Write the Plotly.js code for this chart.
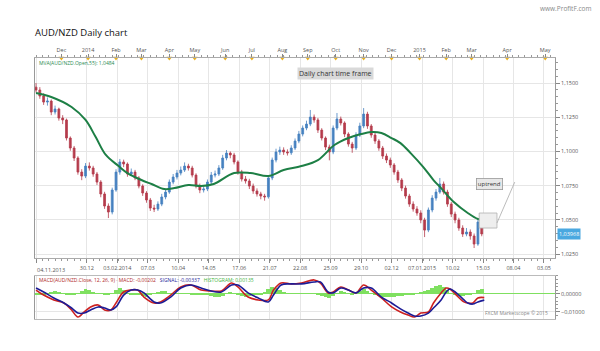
<!DOCTYPE html>
<html>
<head>
<meta charset="utf-8">
<script src="https://cdn.plot.ly/plotly-3.0.1.min.js"></script>
<style>html,body{margin:0;padding:0;background:#fff}#chart{width:600px;height:351px}</style>
</head>
<body>
<div id="chart"></div>
<script>
// Bar index (trading days from 04.11.2013), one candle per 3 sessions
const barIdx = [0,3,6,9,12,15,18,21,24,27,30,33,36,39,42,45,48,51,54,57,60,63,66,69,72,75,78,81,84,87,90,93,96,99,102,105,108,111,114,117,120,123,126,129,132,135,138,141,144,147,150,153,156,159,162,165,168,171,174,177,180,183,186,189,192,195,198,201,204,207,210,213,216,219,222,225,228,231,234,237,240,243,246,249,252,255,258,261,264,267,270,273,276,279,282,285,288,291,294,297,300,303,306,309,312,315,318,321,324,327,330,333,336,339,342,345,348,351];
const openP = [1.1470,1.1449,1.1405,1.1361,1.1368,1.1288,1.1310,1.1244,1.1230,1.1098,1.1025,1.0952,1.0849,1.0820,1.0893,1.0879,1.0835,1.0776,1.0689,1.0601,1.0557,1.0718,1.0849,1.0923,1.0908,1.0835,1.0849,1.0806,1.0747,1.0696,1.0645,1.0586,1.0579,1.0615,1.0667,1.0703,1.0776,1.0813,1.0842,1.0864,1.0893,1.0879,1.0827,1.0747,1.0718,1.0725,1.0776,1.0827,1.0835,1.0879,1.0952,1.0988,1.0974,1.0923,1.0849,1.0798,1.0784,1.0747,1.0711,1.0689,1.0674,1.0668,1.0806,1.0937,1.0996,1.1010,1.0996,1.0990,1.1025,1.1076,1.1127,1.1171,1.1200,1.1251,1.1230,1.1156,1.1098,1.1032,1.0996,1.1171,1.1237,1.1208,1.1127,1.1054,1.1025,1.1120,1.1186,1.1273,1.1186,1.1120,1.1076,1.1025,1.0966,1.0937,1.0901,1.0849,1.0791,1.0732,1.0674,1.0615,1.0579,1.0550,1.0499,1.0425,1.0572,1.0659,1.0703,1.0762,1.0703,1.0615,1.0542,1.0499,1.0440,1.0396,1.0411,1.0382,1.0323,1.0484];
const highP = [1.1500,1.1470,1.1425,1.1395,1.1380,1.1335,1.1320,1.1265,1.1240,1.1110,1.1040,1.0965,1.0870,1.0915,1.0920,1.0895,1.0850,1.0790,1.0705,1.0620,1.0735,1.0870,1.0945,1.0940,1.0920,1.0875,1.0865,1.0820,1.0760,1.0710,1.0660,1.0610,1.0635,1.0690,1.0725,1.0795,1.0835,1.0865,1.0890,1.0920,1.0910,1.0895,1.0840,1.0765,1.0745,1.0795,1.0850,1.0860,1.0900,1.0975,1.1010,1.1000,1.0990,1.0935,1.0865,1.0820,1.0800,1.0765,1.0730,1.0705,1.0690,1.0825,1.0955,1.1020,1.1035,1.1030,1.1015,1.1045,1.1095,1.1150,1.1190,1.1225,1.1303,1.1270,1.1245,1.1170,1.1110,1.1050,1.1190,1.1281,1.1255,1.1220,1.1140,1.1070,1.1140,1.1210,1.1317,1.1290,1.1200,1.1140,1.1090,1.1040,1.0985,1.0955,1.0915,1.0865,1.0805,1.0750,1.0690,1.0635,1.0600,1.0570,1.0515,1.0590,1.0680,1.0725,1.0806,1.0780,1.0720,1.0630,1.0560,1.0515,1.0460,1.0440,1.0430,1.0400,1.0505,1.0500];
const lowP = [1.1430,1.1385,1.1340,1.1335,1.1265,1.1270,1.1225,1.1200,1.1080,1.1005,1.0930,1.0830,1.0790,1.0805,1.0860,1.0815,1.0755,1.0665,1.0580,1.0513,1.0540,1.0705,1.0830,1.0885,1.0815,1.0820,1.0790,1.0730,1.0675,1.0625,1.0565,1.0557,1.0565,1.0600,1.0650,1.0690,1.0760,1.0795,1.0825,1.0850,1.0860,1.0810,1.0730,1.0695,1.0700,1.0710,1.0760,1.0810,1.0820,1.0865,1.0935,1.0950,1.0905,1.0830,1.0780,1.0765,1.0725,1.0690,1.0670,1.0650,1.0640,1.0655,1.0790,1.0920,1.0975,1.0975,1.0970,1.0975,1.1010,1.1060,1.1110,1.1155,1.1185,1.1210,1.1135,1.1080,1.1010,1.0935,1.0980,1.1155,1.1190,1.1105,1.1035,1.0990,1.1010,1.1105,1.1170,1.1165,1.1100,1.1055,1.1005,1.0945,1.0915,1.0880,1.0830,1.0770,1.0710,1.0655,1.0595,1.0560,1.0530,1.0475,1.0374,1.0410,1.0555,1.0640,1.0690,1.0685,1.0595,1.0520,1.0475,1.0420,1.0375,1.0380,1.0355,1.0294,1.0310,1.0380];
const closeP = [1.1449,1.1405,1.1361,1.1368,1.1288,1.1310,1.1244,1.1230,1.1098,1.1025,1.0952,1.0849,1.0820,1.0893,1.0879,1.0835,1.0776,1.0689,1.0601,1.0557,1.0718,1.0849,1.0923,1.0908,1.0835,1.0849,1.0806,1.0747,1.0696,1.0645,1.0586,1.0579,1.0615,1.0667,1.0703,1.0776,1.0813,1.0842,1.0864,1.0893,1.0879,1.0827,1.0747,1.0718,1.0725,1.0776,1.0827,1.0835,1.0879,1.0952,1.0988,1.0974,1.0923,1.0849,1.0798,1.0784,1.0747,1.0711,1.0689,1.0674,1.0668,1.0806,1.0937,1.0996,1.1010,1.0996,1.0990,1.1025,1.1076,1.1127,1.1171,1.1200,1.1251,1.1230,1.1156,1.1098,1.1032,1.0996,1.1171,1.1237,1.1208,1.1127,1.1054,1.1025,1.1120,1.1186,1.1273,1.1186,1.1120,1.1076,1.1025,1.0966,1.0937,1.0901,1.0849,1.0791,1.0732,1.0674,1.0615,1.0579,1.0550,1.0499,1.0425,1.0572,1.0659,1.0703,1.0762,1.0703,1.0615,1.0542,1.0499,1.0440,1.0396,1.0411,1.0382,1.0323,1.0484,1.0397];

// 55-period moving average of Open
const maIdx = [0,12,28,39,47,55,65,72,83,91,101,109,120,130,140,156,169,183,195,209,222,235,246,256,264,272,280,287,295,305,313,319,329,340,348,353];
const maVal = [1.1427,1.1398,1.1325,1.1230,1.1105,1.0974,1.0893,1.0842,1.0791,1.0762,1.0725,1.0732,1.0754,1.0747,1.0762,1.0842,1.0842,1.0820,1.0864,1.0893,1.0937,1.1047,1.1098,1.1127,1.1142,1.1135,1.1098,1.1061,1.0988,1.0886,1.0791,1.0732,1.0630,1.0550,1.0506,1.0499];

// MACD (12,26,9)
const macdIdx = [0,6,14,22,28,33,38,43,49,54,59,63,69,75,80,85,93,98,106,114,122,130,138,146,154,159,167,175,183,187,193,201,209,219,224,230,234,240,246,252,258,264,272,280,287,293,298,303,309,313,319,323,326,331,337,340,344,348,353];
const macdVal = [0.0022,-0.0006,-0.0033,-0.0050,-0.0089,-0.0128,-0.0100,-0.0072,-0.0061,-0.0089,-0.0089,-0.0050,0.0011,0.0022,0.0022,-0.0017,-0.0050,-0.0044,-0.0006,0.0039,0.0050,0.0022,0.0017,0.0017,0.0061,0.0039,-0.0017,-0.0033,-0.0033,0.0022,0.0061,0.0056,0.0061,0.0078,0.0061,0.0006,0.0011,0.0039,0.0022,0.0006,0.0050,0.0022,-0.0022,-0.0072,-0.0100,-0.0117,-0.0128,-0.0106,-0.0100,-0.0050,0.0006,0.0033,0.0028,-0.0006,-0.0044,-0.0050,-0.0050,-0.0022,-0.0020];
const signalVal = [0.0033,0.0011,-0.0022,-0.0050,-0.0078,-0.0106,-0.0106,-0.0089,-0.0072,-0.0078,-0.0089,-0.0072,-0.0006,0.0022,0.0022,0.0006,-0.0044,-0.0050,-0.0017,0.0033,0.0050,0.0033,0.0017,0.0011,0.0050,0.0050,0.0006,-0.0022,-0.0044,-0.0006,0.0050,0.0056,0.0056,0.0067,0.0067,0.0011,0.0006,0.0033,0.0022,0.0006,0.0033,0.0033,-0.0017,-0.0050,-0.0083,-0.0106,-0.0122,-0.0122,-0.0106,-0.0078,-0.0033,0.0011,0.0028,0.0006,-0.0033,-0.0050,-0.0056,-0.0044,-0.0034];
const histVal = [-0.0008,-0.0008,-0.0006,0.0008,0.0011,0.0014,0.0011,0.0006,-0.0006,-0.0008,
 -0.0006,0.0006,0.0017,0.0028,0.0022,0.0011,0.0006,0.0006,-0.0006,-0.0008,
 0.0006,0.0022,0.0033,0.0022,0.0006,-0.0003,-0.0006,-0.0008,-0.0011,-0.0014,
 -0.0008,0.0003,0.0011,0.0017,0.0014,0.0008,0.0006,0.0008,0.0006,0.0003,
 0.0003,-0.0003,-0.0006,-0.0006,-0.0008,-0.0006,-0.0011,-0.0017,-0.0017,-0.0011,
 0.0006,0.0011,0.0006,-0.0006,-0.0011,-0.0014,-0.0011,-0.0008,-0.0006,-0.0003,
 0.0011,0.0028,0.0039,0.0033,0.0022,0.0011,0.0006,0.0003,0.0006,0.0008,
 0.0008,0.0006,0.0008,0.0006,-0.0006,-0.0011,-0.0017,-0.0022,-0.0011,0.0006,
 0.0017,0.0011,0.0003,-0.0003,0.0006,0.0017,0.0028,0.0017,0.0006,-0.0006,
 -0.0011,-0.0017,-0.0017,-0.0017,-0.0014,-0.0011,-0.0011,-0.0008,-0.0008,-0.0006,
 0.0003,0.0011,0.0017,0.0022,0.0033,0.0044,0.0050,0.0039,0.0022,0.0006,
 -0.0006,-0.0011,-0.0011,-0.0008,-0.0006,0.0006,0.0022,0.0028];

// Axis ticks
const dateTickIdx = [0,40,64,88,112,136,160,184,208,232,256,280,304,328,352,376,400];
const dateTickText = ['','30.12','03.02.2014','07.03','10.04','14.05','17.06','21.07','22.08','25.09','29.10','02.12','07.01.2015','10.02','15.03','08.04','03.05'];
const monthTickIdx = [20,41,63,83,105,125,149,170,194,214,236,258,280,302,323,343,371,401];
const monthTickText = ['Dec','2014','Feb','Mar','Apr','May','Jun','Jul','Aug','Sep','Oct','Nov','Dec','2015','Feb','Mar','Apr','May'];
const priceTicks = [1.025,1.05,1.075,1.10,1.125,1.15];
const macdTicks = [0,-0.01];

const XR = [-0.8, 408.7];
const YR = [1.0221, 1.1683];
const F = 'Open Sans, DejaVu Sans, sans-serif';
const tickCol = '#555';

const traces = [
  {type:'candlestick', x:barIdx, open:openP, high:highP, low:lowP, close:closeP,
   xaxis:'x', yaxis:'y', whiskerwidth:0,
   increasing:{line:{color:'#4682c0',width:0.8},fillcolor:'#4682c0'},
   decreasing:{line:{color:'#b53c4c',width:0.8},fillcolor:'#b53c4c'},
   hoverinfo:'skip', showlegend:false},
  {type:'scatter', mode:'lines', x:maIdx, y:maVal, xaxis:'x', yaxis:'y',
   line:{color:'#1d7f45', width:2, shape:'spline', smoothing:1}, hoverinfo:'skip', showlegend:false},
  {type:'scatter', mode:'markers', x:monthTickIdx, y:monthTickIdx.map(()=>YR[1]), xaxis:'x2', yaxis:'y',
   marker:{symbol:'triangle-down', size:5, color:'#e8b020'}, cliponaxis:false, hoverinfo:'skip', showlegend:false},
  {type:'bar', x:barIdx, y:histVal, xaxis:'x3', yaxis:'y2', width:3,
   marker:{color:'#7fe060', line:{width:0}}, hoverinfo:'skip', showlegend:false},
  {type:'scatter', mode:'lines', x:macdIdx, y:macdVal, xaxis:'x3', yaxis:'y2',
   line:{color:'#cc2020', width:1.6, shape:'spline'}, hoverinfo:'skip', showlegend:false},
  {type:'scatter', mode:'lines', x:macdIdx, y:signalVal, xaxis:'x3', yaxis:'y2',
   line:{color:'#1c1c96', width:1.6, shape:'spline'}, hoverinfo:'skip', showlegend:false}
];

const layout = {
  width:600, height:351,
  margin:{l:35, r:45, t:58, b:32},
  paper_bgcolor:'#fff', plot_bgcolor:'#fff',
  separators:', ',
  hovermode:false, showlegend:false, bargap:0,
  font:{family:F, size:6, color:tickCol},
  xaxis:{domain:[0,1], anchor:'y', range:XR, rangeslider:{visible:false},
    tickmode:'array', tickvals:dateTickIdx, ticktext:dateTickText,
    ticks:'outside', ticklen:4, tickcolor:'#888', tickfont:{size:5.5, color:tickCol},
    minor:{dtick:5, tick0:0, ticks:'outside', ticklen:2, tickcolor:'#999', showgrid:false},
    showgrid:true, gridcolor:'#e6e6e6', showline:true, linecolor:'#aaa', zeroline:false},
  xaxis2:{overlaying:'x', anchor:'y', side:'top', range:XR,
    tickmode:'array', tickvals:monthTickIdx, ticktext:monthTickText,
    ticks:'outside', ticklen:3, tickcolor:'#888', tickfont:{size:5.5, color:tickCol},
    minor:{dtick:5, tick0:0, ticks:'outside', ticklen:2, tickcolor:'#999', showgrid:false},
    showgrid:false, showline:true, linecolor:'#aaa', zeroline:false},
  xaxis3:{domain:[0,1], anchor:'y2', range:XR, tickmode:'array', tickvals:dateTickIdx,
    showticklabels:false, ticks:'', showgrid:true, gridcolor:'#e6e6e6',
    showline:true, linecolor:'#bbb', mirror:true, zeroline:false},
  yaxis:{domain:[0.2337,1], anchor:'x', side:'right', range:YR,
    tickmode:'array', tickvals:priceTicks, tickformat:'.4f',
    ticks:'outside', ticklen:4, tickcolor:'#888', tickfont:{size:5.5, color:tickCol},
    minor:{dtick:0.005, tick0:1.0, ticks:'outside', ticklen:2, tickcolor:'#999', showgrid:false},
    showgrid:true, gridcolor:'#e6e6e6', showline:true, linecolor:'#999', mirror:true, zeroline:false},
  yaxis2:{domain:[0,0.1648], anchor:'x3', side:'right', range:[-0.0139,0.0100],
    tickmode:'array', tickvals:macdTicks, tickformat:'.5f',
    ticks:'outside', ticklen:4, tickcolor:'#888', tickfont:{size:5.5, color:tickCol},
    minor:{dtick:0.002, tick0:0, ticks:'outside', ticklen:2, tickcolor:'#999', showgrid:false},
    showgrid:true, gridcolor:'#e6e6e6', zeroline:true, zerolinecolor:'#7fe060', zerolinewidth:1,
    showline:true, linecolor:'#999', mirror:true},
  shapes:[
    {type:'rect', xref:'x', yref:'y', x0:349, x1:363, y0:1.0440, y1:1.0550,
     fillcolor:'#eeeeee', line:{color:'#b0b0b0', width:0.8}, layer:'above'},
    {type:'line', xref:'x', yref:'y', x0:363, y0:1.0477, x1:377, y1:1.0776,
     line:{color:'#aaaaaa', width:0.8}}
  ],
  annotations:[
    {text:'AUD/NZD Daily chart', xref:'paper', yref:'paper', x:-0.003, y:1.0958, xanchor:'left', yanchor:'middle',
     showarrow:false, font:{family:F, size:9.5, color:'#111'}},
    {text:'www.ProfitF.com', xref:'paper', yref:'paper', x:1.021, y:1.189, xanchor:'center', yanchor:'middle',
     showarrow:false, font:{family:F, size:6.5, color:'#888'}},
    {text:'04.11.2013', xref:'paper', yref:'paper', x:0.0, y:0.1870, xanchor:'left', yanchor:'middle',
     showarrow:false, font:{family:F, size:5.5, color:tickCol}},
    {text:'MVA(AUD/NZD.Open,55): 1,0484', xref:'paper', yref:'paper', x:0.004, y:0.981, xanchor:'left', yanchor:'middle',
     showarrow:false, font:{family:F, size:5, color:'#2a8a50'}},
    {text:'Daily chart time frame', xref:'x', yref:'paper', x:236, y:0.9395, xanchor:'center', yanchor:'middle',
     showarrow:false, bgcolor:'#d9d9d9', borderpad:1, font:{family:F, size:7, color:'#333'}},
    {text:'uptrend', xref:'x', yref:'y', x:357, y:1.0762, xanchor:'center', yanchor:'middle',
     showarrow:false, bgcolor:'#e8e8e8', bordercolor:'#999', borderwidth:0.8, borderpad:1, font:{family:F, size:6, color:'#333'}},
    {text:'1,03968', xref:'paper', yref:'y', x:1.003, y:1.0397, xanchor:'left', yanchor:'middle',
     showarrow:false, bgcolor:'#4aa8e0', borderpad:1, font:{family:F, size:5.5, color:'#fff'}},
    {text:'<span style="color:#b02828">MACD(AUD/NZD.Close, 12, 26, 9) · MACD: -0,00202</span>   <span style="color:#22229a">SIGNAL: -0,00337</span>   <span style="color:#3cb43c">HISTOGRAM: 0,00135</span>',
     xref:'paper', yref:'paper', x:0.004, y:0.1494, xanchor:'left', yanchor:'middle',
     showarrow:false, font:{family:F, size:5}},
    {text:'FXCM Marketscope © 2015', xref:'paper', yref:'paper', x:0.99, y:0.023, xanchor:'right', yanchor:'middle',
     showarrow:false, font:{family:F, size:5, color:'#888'}}
  ]
};

Plotly.newPlot('chart', traces, layout, {staticPlot:true, displayModeBar:false});
</script>
</body>
</html>
